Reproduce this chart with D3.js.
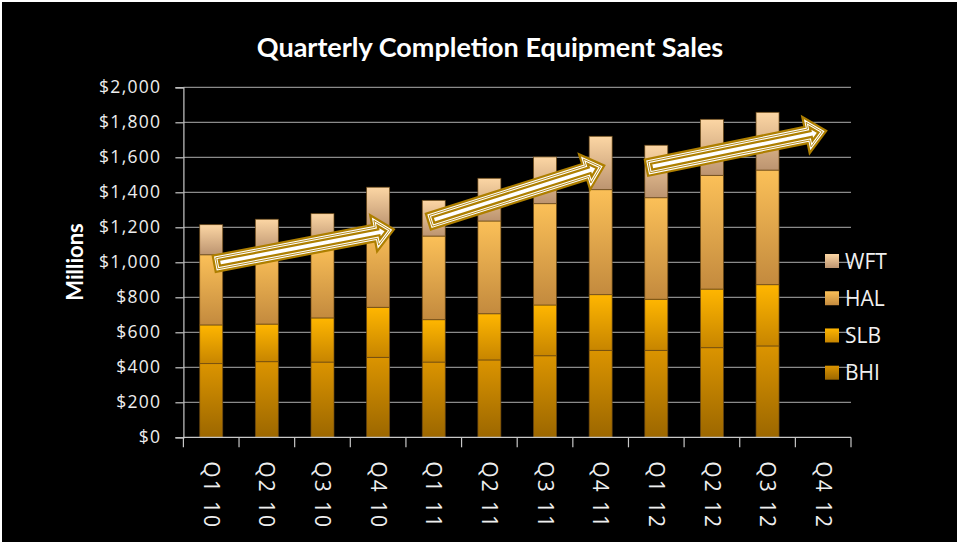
<!DOCTYPE html>
<html>
<head>
<meta charset="utf-8">
<script src="https://cdn.jsdelivr.net/npm/d3@7"></script>
<style>
  html, body { margin: 0; padding: 0; background: #ffffff; }
  svg { display: block; }
</style>
</head>
<body>
<svg id="chart" width="960" height="542"></svg>
<script>
// ---------- data ----------
const categories = ["Q1 10","Q2 10","Q3 10","Q4 10","Q1 11","Q2 11","Q3 11","Q4 11","Q1 12","Q2 12","Q3 12","Q4 12"];
const seriesNames = ["BHI","SLB","HAL","WFT"];
const BHI = [421, 432, 430, 457, 430, 442, 466, 497, 497, 512, 522, null];
const SLB = [221, 215, 252, 286, 242, 264, 290, 318, 292, 335, 350, null];
const HAL = [401, 413, 418, 457, 478, 530, 579, 600, 580, 650, 655, null];
const WFT = [172, 186, 178, 229, 204, 244, 267, 305, 300, 320, 330, null];
const yTicks = [0, 200, 400, 600, 800, 1000, 1200, 1400, 1600, 1800, 2000];
// trend arrows (annotation): position in category units, value in $M
const arrowFrom = [[0.53, 990], [4.38, 1230], [8.30, 1539]];
const arrowTo   = [[3.82, 1190], [7.60, 1556], [11.59, 1753]];

const seriesValues = {BHI, SLB, HAL, WFT};
const table = categories.map((c, i) => {
  const row = {cat: c};
  seriesNames.forEach(s => row[s] = seriesValues[s][i] || 0);
  return row;
});

// ---------- layout ----------
const svg = d3.select("#chart");
const L = 183.4, R = 851, T = 87.3, B = 437.3;

svg.append("rect").attr("x", 2).attr("y", 2).attr("width", 955).attr("height", 540).attr("fill", "#000");

const gap = 1 - 23 / 55.6;
const x = d3.scaleBand().domain(categories).range([L, R]).paddingInner(gap).paddingOuter(gap / 2);
const xPos = d3.scaleLinear().domain([0, categories.length]).range([L, R]);
const y = d3.scaleLinear().domain([0, 2000]).range([B, T]);

// gradients
const grads = {
  BHI: ["#DB9400", "#9C6700"],
  SLB: ["#FFB600", "#C78500"],
  HAL: ["#FBC058", "#C38A3E"],
  WFT: ["#FCD6A4", "#BC9470"]
};
const defs = svg.append("defs");
seriesNames.forEach(s => {
  const g = defs.append("linearGradient").attr("id", "g" + s)
    .attr("x1", 0).attr("y1", 0).attr("x2", 0).attr("y2", 1);
  g.append("stop").attr("offset", "0%").attr("stop-color", grads[s][0]);
  g.append("stop").attr("offset", "100%").attr("stop-color", grads[s][1]);
});

// gridlines
svg.append("g").selectAll("line").data(yTicks.filter(d => d > 0)).join("line")
  .attr("x1", L).attr("x2", R)
  .attr("y1", d => y(d)).attr("y2", d => y(d))
  .attr("stroke", "#8a8a8a").attr("stroke-width", 1.2);

// y axis
const yAxis = d3.axisLeft(y).tickValues(yTicks).tickSize(8).tickPadding(14)
  .tickFormat(d => "$" + d3.format(",")(d));
const gy = svg.append("g").attr("transform", `translate(${L},0)`).call(yAxis);
gy.select(".domain").attr("stroke", "#c8c8c8").attr("stroke-width", 1.2);
gy.selectAll(".tick line").attr("stroke", "#c8c8c8").attr("stroke-width", 1.2);
gy.selectAll(".tick text").attr("fill", "#eeeeee")
  .style("font-family", "'Open Sans', sans-serif").style("font-size", "17.5px")
  .style("letter-spacing", "1.3px");

// bars
const stack = d3.stack().keys(seriesNames)(table);
const barG = svg.append("g");
stack.forEach(layer => {
  barG.append("g").selectAll("rect")
    .data(layer.filter(d => d[1] - d[0] > 0)).join("rect")
    .attr("x", d => x(d.data.cat))
    .attr("width", x.bandwidth())
    .attr("y", d => y(d[1]))
    .attr("height", d => y(d[0]) - y(d[1]))
    .attr("fill", `url(#g${layer.key})`)
    .attr("stroke", "rgba(105,70,20,0.85)").attr("stroke-width", 0.8);
});

// x axis
const xg = svg.append("g");
xg.append("line").attr("x1", L).attr("x2", R).attr("y1", B).attr("y2", B)
  .attr("stroke", "#c8c8c8").attr("stroke-width", 1.2);
xg.selectAll("line.tk").data(d3.range(categories.length + 1)).join("line").attr("class", "tk")
  .attr("x1", i => xPos(i)).attr("x2", i => xPos(i))
  .attr("y1", B).attr("y2", B + 10)
  .attr("stroke", "#c8c8c8").attr("stroke-width", 1.2);
xg.selectAll("text").data(categories).join("text")
  .attr("transform", d => `translate(${x(d) + x.bandwidth() / 2},${B + 24}) rotate(90)`)
  .attr("dy", "0.35em")
  .attr("fill", "#eeeeee")
  .style("font-family", "'Open Sans', sans-serif").style("font-size", "21px")
  .style("letter-spacing", "2px")
  .text(d => d);

// arrows
function arrowPath(p0, p1) {
  const dx = p1[0] - p0[0], dy = p1[1] - p0[1];
  const len = Math.hypot(dx, dy);
  const ux = dx / len, uy = dy / len, nx = -uy, ny = ux;
  const w = 5.6, h = 12.5, hl = 14;
  const tip = [p1[0] - ux * 6, p1[1] - uy * 6];
  const base = [tip[0] - ux * hl, tip[1] - uy * hl];
  const s0 = [p0[0] + ux * 4, p0[1] + uy * 4];
  const pts = [
    [s0[0] + nx * w, s0[1] + ny * w],
    [base[0] + nx * w, base[1] + ny * w],
    [base[0] + nx * h, base[1] + ny * h],
    tip,
    [base[0] - nx * h, base[1] - ny * h],
    [base[0] - nx * w, base[1] - ny * w],
    [s0[0] - nx * w, s0[1] - ny * w]
  ];
  return "M" + pts.map(p => p.join(",")).join("L") + "Z";
}
const gold = "#AE7F00";
const arrowG = svg.append("g");
arrowFrom.forEach((a, i) => {
  const b = arrowTo[i];
  const d = arrowPath([xPos(a[0]), y(a[1])], [xPos(b[0]), y(b[1])]);
  arrowG.append("path").attr("d", d).attr("fill", "#fff").attr("stroke", gold)
    .attr("stroke-width", 7.5).attr("stroke-linejoin", "miter").attr("stroke-miterlimit", 10);
  arrowG.append("path").attr("d", d).attr("fill", "none").attr("stroke", "#fff")
    .attr("stroke-width", 3).attr("stroke-linejoin", "miter").attr("stroke-miterlimit", 10);
  arrowG.append("path").attr("d", d).attr("fill", "none").attr("stroke", gold)
    .attr("stroke-width", 0.9).attr("stroke-linejoin", "miter").attr("stroke-miterlimit", 10);
});

// legend
const legendOrder = ["WFT", "HAL", "SLB", "BHI"];
const legY = d3.scalePoint().domain(legendOrder).range([261, 372.7]);
const lg = svg.append("g");
lg.selectAll("rect").data(legendOrder).join("rect")
  .attr("x", 825).attr("y", d => legY(d) - 7).attr("width", 14).attr("height", 14)
  .attr("fill", d => `url(#g${d})`);
lg.selectAll("text").data(legendOrder).join("text")
  .attr("x", 845).attr("y", d => legY(d)).attr("dy", "0.36em")
  .attr("fill", "#f0f0f0")
  .style("font-family", "'Open Sans', sans-serif").style("font-size", "21px")
  .text(d => d);

// title
svg.append("text").attr("x", 490).attr("y", 57).attr("text-anchor", "middle")
  .attr("fill", "#ffffff")
  .style("font-family", "Lato, sans-serif").style("font-weight", "bold").style("font-size", "27px")
  .text("Quarterly Completion Equipment Sales");

// y axis title
svg.append("text").attr("transform", "translate(83,262) rotate(-90)")
  .attr("text-anchor", "middle").attr("fill", "#ffffff")
  .style("font-family", "Lato, sans-serif").style("font-weight", "bold").style("font-size", "22px")
  .text("Millions");
</script>
</body>
</html>
